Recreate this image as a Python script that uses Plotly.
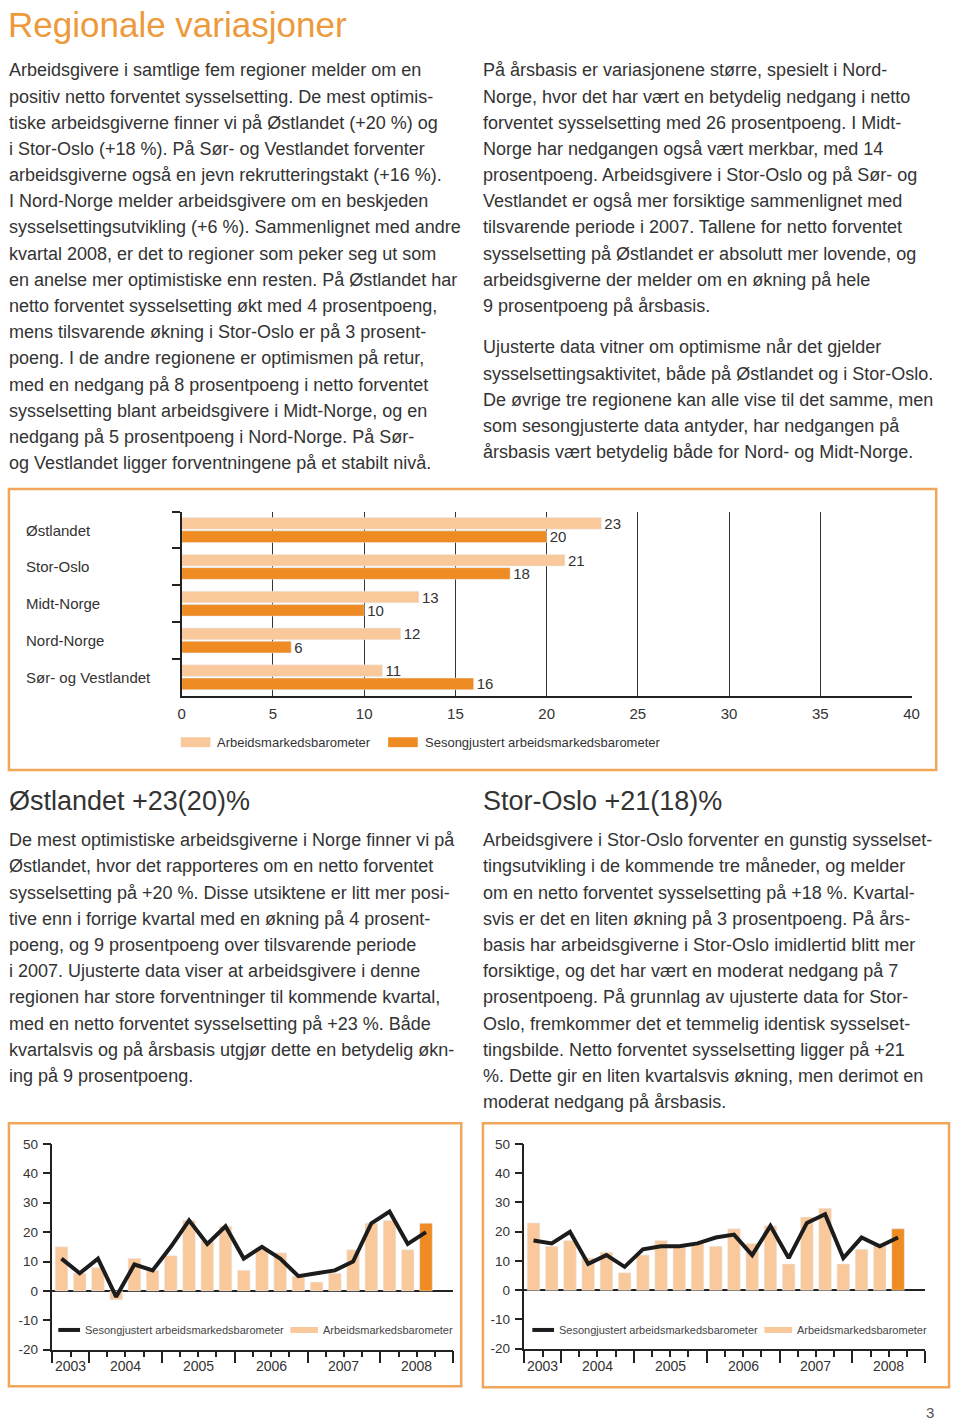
import plotly.graph_objects as go

# ---------------- DATA ----------------
regions = ["Østlandet", "Stor-Oslo", "Midt-Norge", "Nord-Norge", "Sør- og Vestlandet"]
barometer = [23, 21, 13, 12, 11]
sesongjustert = [20, 18, 10, 6, 16]

quarters = ["2003K3", "2003K4",
            "2004K1", "2004K2", "2004K3", "2004K4",
            "2005K1", "2005K2", "2005K3", "2005K4",
            "2006K1", "2006K2", "2006K3", "2006K4",
            "2007K1", "2007K2", "2007K3", "2007K4",
            "2008K1", "2008K2", "2008K3", "2008K4"]

ost_bar = [15, 6, 8, -3, 11, 7, 12, 24, 17, 22, 7, 14, 13, 5, 3, 6, 14, 23, 24, 14, 23]
ost_line = [11, 6, 11, -2, 9, 7, 15, 24, 16, 22, 11, 15, 11, 5, 6, 7, 10, 23, 27, 16, 20]

oslo_bar = [23, 15, 17, 11, 13, 6, 12, 17, 15, 16, 15, 21, 16, 22, 9, 25, 28, 9, 14, 16, 21]
oslo_line = [17, 16, 20, 9, 12, 8, 14, 15, 15, 16, 18, 19, 12, 22, 11, 23, 26, 11, 18, 15, 18]

small_yticks = [-20, -10, 0, 10, 20, 30, 40, 50]

title = "Regionale variasjoner"
intro_left = [
    "Arbeidsgivere i samtlige fem regioner melder om en",
    "positiv netto forventet sysselsetting. De mest optimis-",
    "tiske arbeidsgiverne finner vi på Østlandet (+20 %) og",
    "i Stor-Oslo (+18 %). På Sør- og Vestlandet forventer",
    "arbeidsgiverne også en jevn rekrutteringstakt (+16 %).",
    "I Nord-Norge melder arbeidsgivere om en beskjeden",
    "sysselsettingsutvikling (+6 %). Sammenlignet med andre",
    "kvartal 2008, er det to regioner som peker seg ut som",
    "en anelse mer optimistiske enn resten. På Østlandet har",
    "netto forventet sysselsetting økt med 4 prosentpoeng,",
    "mens tilsvarende økning i Stor-Oslo er på 3 prosent-",
    "poeng. I de andre regionene er optimismen på retur,",
    "med en nedgang på 8 prosentpoeng i netto forventet",
    "sysselsetting blant arbeidsgivere i Midt-Norge, og en",
    "nedgang på 5 prosentpoeng i Nord-Norge. På Sør-",
    "og Vestlandet ligger forventningene på et stabilt nivå.",
]
intro_right_1 = [
    "På årsbasis er variasjonene større, spesielt i Nord-",
    "Norge, hvor det har vært en betydelig nedgang i netto",
    "forventet sysselsetting med 26 prosentpoeng. I Midt-",
    "Norge har nedgangen også vært merkbar, med 14",
    "prosentpoeng. Arbeidsgivere i Stor-Oslo og på Sør- og",
    "Vestlandet er også mer forsiktige sammenlignet med",
    "tilsvarende periode i 2007. Tallene for netto forventet",
    "sysselsetting på Østlandet er absolutt mer lovende, og",
    "arbeidsgiverne der melder om en økning på hele",
    "9 prosentpoeng på årsbasis.",
]
intro_right_2 = [
    "Ujusterte data vitner om optimisme når det gjelder",
    "sysselsettingsaktivitet, både på Østlandet og i Stor-Oslo.",
    "De øvrige tre regionene kan alle vise til det samme, men",
    "som sesongjusterte data antyder, har nedgangen på",
    "årsbasis vært betydelig både for Nord- og Midt-Norge.",
]
head_ost = "Østlandet +23(20)%"
head_oslo = "Stor-Oslo +21(18)%"
text_ost = [
    "De mest optimistiske arbeidsgiverne i Norge finner vi på",
    "Østlandet, hvor det rapporteres om en netto forventet",
    "sysselsetting på +20 %. Disse utsiktene er litt mer posi-",
    "tive enn i forrige kvartal med en økning på 4 prosent-",
    "poeng, og 9 prosentpoeng over tilsvarende periode",
    "i 2007. Ujusterte data viser at arbeidsgivere i denne",
    "regionen har store forventninger til kommende kvartal,",
    "med en netto forventet sysselsetting på +23 %. Både",
    "kvartalsvis og på årsbasis utgjør dette en betydelig økn-",
    "ing på 9 prosentpoeng.",
]
text_oslo = [
    "Arbeidsgivere i Stor-Oslo forventer en gunstig sysselset-",
    "tingsutvikling i de kommende tre måneder, og melder",
    "om en netto forventet sysselsetting på +18 %. Kvartal-",
    "svis er det en liten økning på 3 prosentpoeng. På års-",
    "basis har arbeidsgiverne i Stor-Oslo imidlertid blitt mer",
    "forsiktige, og det har vært en moderat nedgang på 7",
    "prosentpoeng. På grunnlag av ujusterte data for Stor-",
    "Oslo, fremkommer det et temmelig identisk sysselset-",
    "tingsbilde. Netto forventet sysselsetting ligger på +21",
    "%. Dette gir en liten kvartalsvis økning, men derimot en",
    "moderat nedgang på årsbasis.",
]
legend_bar = "Arbeidsmarkedsbarometer"
legend_adj = "Sesongjustert arbeidsmarkedsbarometer"
page_no = "3"

# ---------------- STYLE ----------------
W, H = 960, 1428
FONT = "Liberation Sans, Arial, sans-serif"
TXT = "#333333"
LIGHT = "#F9C99B"
ORANGE = "#EE8B22"
TITLE_OR = "#EC9A3C"
BORDER = "#F1A65A"
AXC = "#222222"


def px(x):
    return x / W


def py(y):
    return 1 - y / H


fig = go.Figure()

# ---- horizontal bar chart ----
fig.add_trace(go.Bar(y=regions, x=barometer, orientation="h", marker_color=LIGHT,
                     text=barometer, textposition="outside", cliponaxis=False,
                     constraintext="none", textfont=dict(size=15, color=TXT, family=FONT),
                     xaxis="x", yaxis="y", showlegend=False, hoverinfo="skip"))
fig.add_trace(go.Bar(y=regions, x=sesongjustert, orientation="h", marker_color=ORANGE,
                     text=sesongjustert, textposition="outside", cliponaxis=False,
                     constraintext="none", textfont=dict(size=15, color=TXT, family=FONT),
                     xaxis="x", yaxis="y", showlegend=False, hoverinfo="skip"))

# ---- quarterly charts ----
n = len(ost_bar)
idx = list(range(n))
bar_cols = [LIGHT] * (n - 1) + [ORANGE]

for xa, ya, bars, line in (("x2", "y2", ost_bar, ost_line), ("x3", "y3", oslo_bar, oslo_line)):
    fig.add_trace(go.Bar(x=idx, y=bars, marker_color=bar_cols, xaxis=xa, yaxis=ya, width=0.69,
                         showlegend=False, hoverinfo="skip"))
    fig.add_trace(go.Scatter(x=idx, y=line, mode="lines", line=dict(color="#1c1c1c", width=4),
                             xaxis=xa, yaxis=ya, showlegend=False, hoverinfo="skip"))

# year boundaries / centers computed from quarter list
years = []
for q in quarters:
    yv = q[:4]
    if yv not in years:
        years.append(yv)
bounds = [-0.5]
centers = []
for yv in years:
    ids = [i for i, q in enumerate(quarters) if q[:4] == yv]
    bounds.append(ids[-1] + 0.5)
    centers.append(sum(ids) / len(ids))
xr = [-0.5, len(quarters) - 0.5]

tickfont_small = dict(size=13.5, color=TXT, family=FONT)


def small_xaxis(domain, anchor):
    return dict(domain=domain, anchor=anchor, range=xr, showgrid=False, zeroline=False,
                showline=True, linecolor=AXC, linewidth=1.5,
                tickmode="array", tickvals=bounds, ticktext=[""] * len(bounds),
                ticks="outside", ticklen=12, tickwidth=1.5, tickcolor=AXC,
                minor=dict(tickmode="linear", tick0=-0.5, dtick=1, ticks="outside",
                           ticklen=6, tickwidth=1.5, tickcolor=AXC, showgrid=False),
                fixedrange=True)


def small_yaxis(domain, anchor):
    return dict(domain=domain, anchor=anchor, range=[-20, 50],
                tickmode="array", tickvals=small_yticks, ticktext=[str(v) for v in small_yticks],
                showgrid=False, zeroline=True, zerolinecolor=AXC, zerolinewidth=1.5,
                showline=True, linecolor=AXC, linewidth=1.5, ticks="outside", ticklen=8,
                tickwidth=1.5, tickcolor=AXC, tickfont=tickfont_small, ticklabelstandoff=2,
                fixedrange=True)


fig.update_layout(
    width=W, height=H, margin=dict(l=0, r=0, t=0, b=0),
    paper_bgcolor="white", plot_bgcolor="rgba(0,0,0,0)",
    font=dict(family=FONT, color=TXT),
    barmode="group", bargap=0.28, bargroupgap=0.12,
    xaxis=dict(domain=[px(180), px(919)], anchor="y", range=[0, 40], dtick=5, tick0=0,
               showgrid=True, gridcolor="#333333", gridwidth=1, zeroline=False,
               showline=True, linecolor=AXC, linewidth=1.5, ticks="",
               ticklabelstandoff=4,
               tickfont=dict(size=15, color=TXT, family=FONT), fixedrange=True),
    yaxis=dict(domain=[py(696), py(510)], anchor="x", autorange="reversed",
               showticklabels=False, showgrid=False, showline=True, linecolor=AXC,
               linewidth=1.5, ticks="outside", tickson="boundaries", ticklen=8,
               tickwidth=1.5, tickcolor=AXC, fixedrange=True),
    xaxis2=small_xaxis([px(49), px(455)], "y2"),
    yaxis2=small_yaxis([py(1357), py(1149)], "x2"),
    xaxis3=small_xaxis([px(527), px(933)], "y3"),
    yaxis3=small_yaxis([py(1356), py(1149)], "x3"),
)

ann = []
shapes = []


def text_line(x, y, s, size=18, color=TXT, anchor="left"):
    ann.append(dict(x=px(x), y=py(y), xref="paper", yref="paper", text=s, showarrow=False,
                    xanchor=anchor, yanchor="middle", font=dict(size=size, color=color, family=FONT)))


def para(x, y0, lines, step=26.47, size=18):
    for i, s in enumerate(lines):
        text_line(x, y0 + i * step, s, size=size)


# title and paragraphs
text_line(2, 18, title, size=35, color=TITLE_OR)
para(3, 64, intro_left)
para(483, 64, intro_right_1)
para(483, 344, intro_right_2)
text_line(3, 802, head_ost, size=27)
text_line(483, 802, head_oslo, size=27)
para(3, 842, text_ost, step=26.5)
para(483, 842, text_oslo, step=26.5)
text_line(938, 1420, page_no, size=15, color="#555555", anchor="center")

# category labels of bar chart
for r in regions:
    ann.append(dict(x=px(20), y=r, xref="paper", yref="y", text=r, showarrow=False,
                    xanchor="left", yanchor="middle", font=dict(size=15, color=TXT, family=FONT)))

# year labels
for xa in ("x2", "x3"):
    for yv, c in zip(years, centers):
        ann.append(dict(x=c, y=py(1373), xref=xa, yref="paper", text=yv, showarrow=False,
                        xanchor="center", yanchor="middle",
                        font=dict(size=14, color=TXT, family=FONT)))

# boxes
for x0, y0, x1, y1 in ((5, 487, 944, 771), (5, 1128, 463, 1394), (485, 1128, 957, 1395)):
    shapes.append(dict(type="rect", xref="paper", yref="paper", x0=px(x0), x1=px(x1),
                       y0=py(y1), y1=py(y0), line=dict(color=BORDER, width=2.5),
                       fillcolor="rgba(0,0,0,0)", layer="below"))

# bar-chart legend
for sx, col, lab in ((179, LIGHT, legend_bar), (389, ORANGE, legend_adj)):
    shapes.append(dict(type="rect", xref="paper", yref="paper", x0=px(sx), x1=px(sx + 30),
                       y0=py(748), y1=py(738), line=dict(width=0), fillcolor=col))
    text_line(sx + 35, 743, lab, size=13)

# small chart legends
for off in (0, 480):
    shapes.append(dict(type="line", xref="paper", yref="paper", x0=px(off + 55), x1=px(off + 77),
                       y0=py(1337), y1=py(1337), line=dict(color="#1c1c1c", width=4)))
    text_line(off + 80, 1337, legend_adj, size=11, color="#444444")
    shapes.append(dict(type="rect", xref="paper", yref="paper", x0=px(off + 290), x1=px(off + 318),
                       y0=py(1340), y1=py(1334), line=dict(width=0), fillcolor=LIGHT))
    text_line(off + 321, 1337, legend_bar, size=11, color="#444444")

fig.update_layout(annotations=ann, shapes=shapes)

reset_css = (
    "var d=document.getElementById('{plot_id}');"
    "var h=document.documentElement,b=document.body;"
    "h.style.margin='0';h.style.padding='0';h.style.overflow='hidden';"
    "b.style.margin='0';b.style.padding='0';b.style.overflow='hidden';"
    "d.style.position='fixed';d.style.left='0px';d.style.top='0px';"
)
fig.write_html("out.html", config={"displayModeBar": False}, post_script=reset_css)
